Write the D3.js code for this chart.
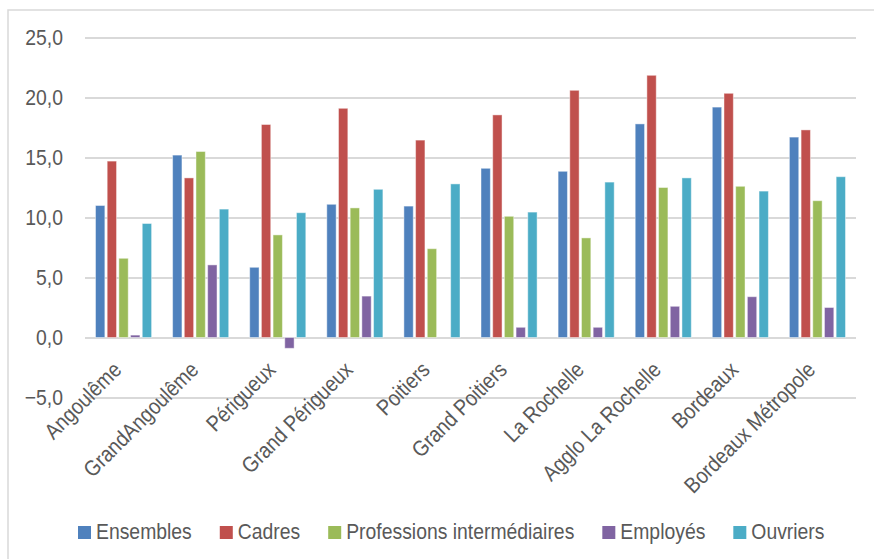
<!DOCTYPE html>
<html>
<head>
<meta charset="utf-8">
<script src="https://cdn.jsdelivr.net/npm/d3@7/dist/d3.min.js"></script>
<style>
  html, body { margin: 0; padding: 0; background: #fff; }
  svg { display: block; }
  text { font-family: "Liberation Sans", Arial, sans-serif; fill: #595959; }
</style>
</head>
<body>
<svg id="chart" width="874" height="559"></svg>
<script>
// Territories shown along the x axis
const categories = [
  "Angoulême", "GrandAngoulême", "Périgueux", "Grand Périgueux", "Poitiers",
  "Grand Poitiers", "La Rochelle", "Agglo La Rochelle", "Bordeaux", "Bordeaux Métropole"
];

// One value per territory for each socio-professional group
const ensembles  = [11.0, 15.2, 5.85, 11.1, 10.95, 14.1, 13.85, 17.8, 19.2, 16.7];
const cadres     = [14.7, 13.3, 17.75, 19.1, 16.45, 18.55, 20.6, 21.85, 20.35, 17.3];
const profInter  = [6.6, 15.5, 8.55, 10.8, 7.4, 10.1, 8.3, 12.5, 12.6, 11.4];
const employes   = [0.2, 6.05, -0.9, 3.45, null, 0.85, 0.85, 2.6, 3.4, 2.5];
const ouvriers   = [9.5, 10.7, 10.4, 12.35, 12.8, 10.45, 12.95, 13.3, 12.2, 13.4];

const seriesNames  = ["Ensembles", "Cadres", "Professions intermédiaires", "Employés", "Ouvriers"];
const seriesValues = [ensembles, cadres, profInter, employes, ouvriers];
const seriesColors = ["#4F81BD", "#C0504D", "#9BBB59", "#8064A2", "#4BACC6"];

const yTicks = [-5, 0, 5, 10, 15, 20, 25];

const svg = d3.select("#chart");
const plot = { left: 85, right: 856, top: 37.5, bottom: 397.5 };

// Condensed lettering: compress each label along its baseline
const NARROW = 0.88;
function condense(sel) {
  sel.each(function () {
    const len = this.getComputedTextLength();
    d3.select(this).attr("textLength", len * NARROW).attr("lengthAdjust", "spacingAndGlyphs");
  });
}

// Outer frame (open on the right and bottom edges of the page)
svg.append("rect")
  .attr("x", 8).attr("y", 10)
  .attr("width", 900).attr("height", 600)
  .attr("fill", "none")
  .attr("stroke", "#d9d9d9")
  .attr("stroke-width", 1.5);

const x0 = d3.scaleBand().domain(categories).range([plot.left, plot.right]).padding(0);
const inner = 10.5;
const x1 = d3.scaleBand().domain(seriesNames)
  .range([inner, x0.bandwidth() - inner]).paddingInner(0.2).paddingOuter(0);
const y = d3.scaleLinear().domain([-5, 25]).range([plot.bottom, plot.top]);

const fr = d3.formatLocale({ decimal: ",", thousands: " ", grouping: [3], currency: ["", " €"] });
const fmt = fr.format(".1f");

// Horizontal gridlines with value labels
const yAxis = d3.axisLeft(y)
  .tickValues(yTicks)
  .tickSize(-(plot.right - plot.left))
  .tickPadding(22)
  .tickFormat(fmt);

const gy = svg.append("g")
  .attr("transform", `translate(${plot.left},0)`)
  .call(yAxis);
gy.select(".domain").remove();
gy.selectAll(".tick line").attr("stroke", "#d9d9d9").attr("stroke-width", 1.8);
gy.selectAll(".tick text")
  .attr("font-size", 22)
  .attr("fill", "#595959")
  .style("font-family", '"Liberation Sans", Arial, sans-serif')
  .call(condense);

// Grouped bars
const groups = svg.append("g").selectAll("g")
  .data(categories)
  .join("g")
  .attr("transform", d => `translate(${x0(d)},0)`);

groups.selectAll("rect")
  .data((d, i) => seriesNames.map((s, k) => ({ s, k, v: seriesValues[k][i] })).filter(e => e.v !== null))
  .join("rect")
  .attr("x", d => x1(d.s))
  .attr("width", x1.bandwidth())
  .attr("y", d => y(Math.max(0, d.v)))
  .attr("height", d => Math.abs(y(d.v) - y(0)))
  .attr("fill", d => seriesColors[d.k])
  .attr("stroke", "rgba(255,255,255,0.45)")
  .attr("stroke-width", 1);

// Rotated category labels
svg.append("g").selectAll("text")
  .data(categories)
  .join("text")
  .attr("transform", d => `translate(${x0(d) + x0.bandwidth() / 2 - 12},360) rotate(-45)`)
  .attr("text-anchor", "end")
  .attr("dy", "0.72em")
  .attr("font-size", 22)
  .text(d => d)
  .call(condense);

// Legend
const legend = svg.append("g").attr("transform", "translate(78,526)");
let lx = 0;
seriesNames.forEach((name, k) => {
  const item = legend.append("g").attr("transform", `translate(${lx},0)`);
  item.append("rect").attr("width", 13).attr("height", 13).attr("fill", seriesColors[k]);
  const t = item.append("text").attr("x", 18).attr("y", 13).attr("font-size", 22).text(name);
  const w = t.node().getComputedTextLength() * NARROW;
  t.attr("textLength", w).attr("lengthAdjust", "spacingAndGlyphs");
  lx += 18 + w + 28;
});
</script>
</body>
</html>
